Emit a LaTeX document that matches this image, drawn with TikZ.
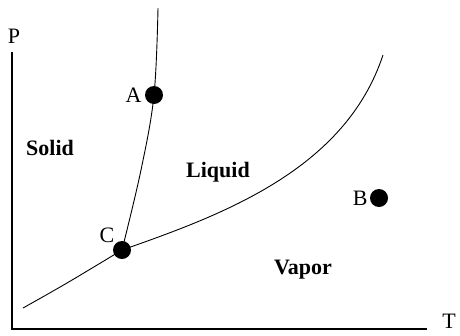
\documentclass[tikz,border=0pt]{standalone}
\usepackage{fontspec}
\setmainfont{Liberation Serif}
\usetikzlibrary{positioning}

\begin{document}
\begin{tikzpicture}[
    x=1pt, y=-1pt,
    font=\fontsize{22}{24}\selectfont,
    axis/.style={line width=1.4pt},
    curve/.style={line width=0.9pt},
    state/.style={circle, fill=black, inner sep=0pt, minimum size=18pt},
    phase/.style={font=\fontsize{22}{24}\selectfont\bfseries},
    tag/.style={inner sep=1pt}
]
\useasboundingbox (0,0) rectangle (460,335);

% axes
\coordinate (origin) at (12,329);
\coordinate (ptop) at (12,52);
\coordinate (tend) at (427,329);
\draw[axis] (ptop) -- (origin) -- (tend);
\node (plabel) at (14,36) {P};
\node[inner sep=0pt, anchor=base east] (tlabel) at (456,328) {T};

% points
\node[state] (A) at (154,95) {};
\node[state] (B) at (379,198) {};
\node[state] (C) at (122,250) {};
\node[tag, left=2pt of A] (alabel) {A};
\node[tag, left=1pt of B] (blabel) {B};
\node[tag, above left=0pt and 0pt of C] (clabel) {C};

% phase regions
\node[phase] (solid) at (50,148) {Solid};
\node[phase] (liquid) at (218,172) {Liquid};
\node[phase] (vapor) at (303,270) {Vapor};

% phase boundaries
\coordinate (fustop) at (158,8);
\coordinate (vapend) at (383,55);
\coordinate (substart) at (23,308);
\draw[curve] plot[smooth, tension=0.6] coordinates {(C.center) (141,170) (A.center) (fustop)};
\draw[curve] (C.center) .. controls (222,215) and (345,170) .. (vapend);
\draw[curve] plot[smooth, tension=0.6] coordinates {(substart) (67,283) (C.center)};
\end{tikzpicture}
\end{document}
